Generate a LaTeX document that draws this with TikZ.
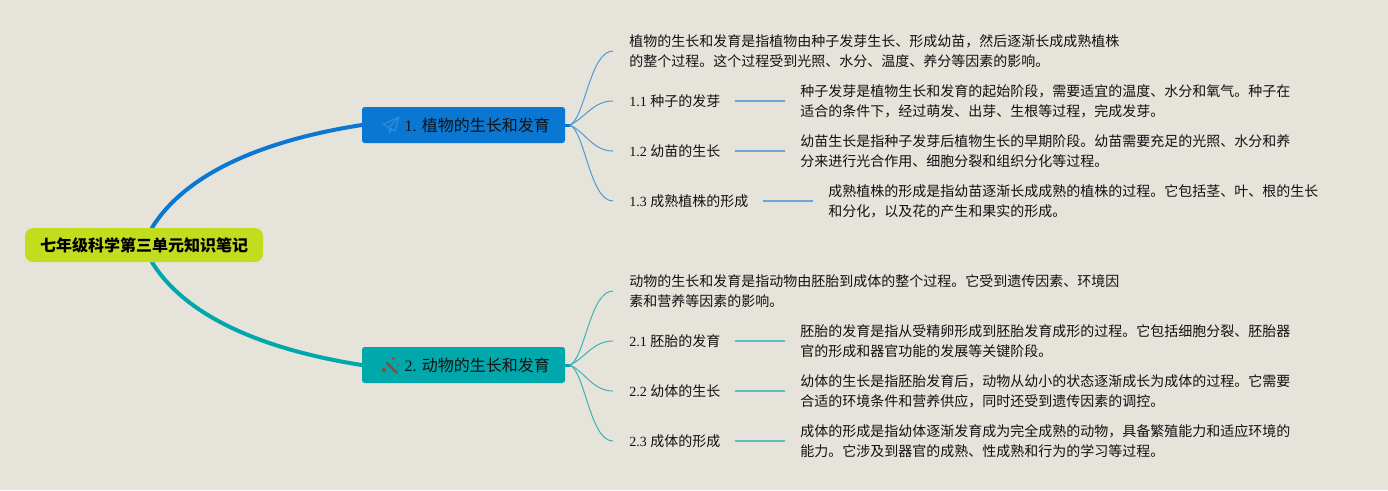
\documentclass[tikz,border=0pt]{standalone}
\usepackage{fontspec}
\setmainfont{Liberation Serif}
\newfontfamily\cjk{Noto Sans CJK SC}
\usetikzlibrary{backgrounds}
\definecolor{bgc}{HTML}{E6E3DB}
\definecolor{rootc}{HTML}{C2DC1E}
\definecolor{blueb}{HTML}{0A78D2}
\definecolor{tealb}{HTML}{00A8AB}
\definecolor{bluel}{HTML}{4F9AD6}
\definecolor{teall}{HTML}{3DB3B4}
\definecolor{bluem}{HTML}{6BA6D6}
\definecolor{tealm}{HTML}{5BBDBD}
\definecolor{inkc}{HTML}{111111}
\definecolor{wandc}{HTML}{A5402D}
\definecolor{planec}{HTML}{2F8EDC}
\newcommand{\Z}[1]{{\cjk #1}}
\newcommand{\St}{\rule[-3.2pt]{0pt}{15pt}}
\newcommand{\Sl}{\rule[-3.7pt]{0pt}{15pt}}
\newcommand{\Sb}{\rule[-2.5pt]{0pt}{15pt}}
\newcommand{\cm}{\char"FF0C\relax}
\newcommand{\two}[2]{\St #1\\\St #2}
\tikzset{
  x=0.75pt,y=-0.75pt,
  txtnode/.style={anchor=west,inner sep=0pt,align=left,text=inkc,font=\fontsize{10.5}{15}\selectfont\cjk},
  lblnode/.style={anchor=west,inner sep=0pt,text=inkc,font=\fontsize{10.5}{15}\selectfont},
  rootnode/.style={fill=rootc,rounded corners=6pt,minimum width=178.5pt,minimum height=25.5pt,inner sep=0pt,text=black,font=\fontsize{12}{14}\selectfont\cjk\bfseries},
  branchnode/.style={rounded corners=2pt,minimum width=152.25pt,minimum height=27pt,inner sep=0pt,text=inkc,font=\fontsize{12}{14}\selectfont},
  mainline/.style={line width=3pt,line cap=round},
  fanb/.style={bluel,line width=0.75pt},
  fant/.style={teall,line width=0.75pt},
  leafb/.style={bluem,line width=1pt},
  leaft/.style={tealm,line width=1pt},
}
\begin{document}
\begin{tikzpicture}
\useasboundingbox (0,0) rectangle (1388,490);
% root and branches
\node[rootnode] (root) at (144,245) {\Sb 七年级科学第三单元知识笔记};
\node[branchnode,fill=blueb] (b1) at (463.5,125) {\Sb\hspace*{20.5pt}1. \Z{植物的生长和发育}};
\node[branchnode,fill=tealb] (b2) at (463.5,365) {\Sb\hspace*{20.5pt}2. \Z{动物的生长和发育}};
% branch 1 texts
\node[txtnode] (d0) at (629,51) {\two{植物的生长和发育是指植物由种子发芽生长、形成幼苗\cm 然后逐渐长成成熟植株}{的整个过程。这个过程受到光照、水分、温度、养分等因素的影响。}};
\node[lblnode] (l1) at (629,101) {\Sl 1.1 \Z{种子的发芽}};
\node[lblnode] (l2) at (629,151) {\Sl 1.2 \Z{幼苗的生长}};
\node[lblnode] (l3) at (629,201) {\Sl 1.3 \Z{成熟植株的形成}};
\node[txtnode] (d1) at (800,101) {\two{种子发芽是植物生长和发育的起始阶段\cm 需要适宜的温度、水分和氧气。种子在}{适合的条件下\cm 经过萌发、出芽、生根等过程\cm 完成发芽。}};
\node[txtnode] (d2) at (800,151) {\two{幼苗生长是指种子发芽后植物生长的早期阶段。幼苗需要充足的光照、水分和养}{分来进行光合作用、细胞分裂和组织分化等过程。}};
\node[txtnode] (d3) at (828,201) {\two{成熟植株的形成是指幼苗逐渐长成成熟的植株的过程。它包括茎、叶、根的生长}{和分化\cm 以及花的产生和果实的形成。}};
% branch 2 texts
\node[txtnode] (e0) at (629,291) {\two{动物的生长和发育是指动物由胚胎到成体的整个过程。它受到遗传因素、环境因}{素和营养等因素的影响。}};
\node[lblnode] (m1) at (629,341) {\Sl 2.1 \Z{胚胎的发育}};
\node[lblnode] (m2) at (629,391) {\Sl 2.2 \Z{幼体的生长}};
\node[lblnode] (m3) at (629,441) {\Sl 2.3 \Z{成体的形成}};
\node[txtnode] (e1) at (800,341) {\two{胚胎的发育是指从受精卵形成到胚胎发育成形的过程。它包括细胞分裂、胚胎器}{官的形成和器官功能的发展等关键阶段。}};
\node[txtnode] (e2) at (800,391) {\two{幼体的生长是指胚胎发育后\cm 动物从幼小的状态逐渐成长为成体的过程。它需要}{合适的环境条件和营养供应\cm 同时还受到遗传因素的调控。}};
\node[txtnode] (e3) at (800,441) {\two{成体的形成是指幼体逐渐发育成为完全成熟的动物\cm 具备繁殖能力和适应环境的}{能力。它涉及到器官的成熟、性成熟和行为的学习等过程。}};
% fan hubs
\coordinate (h1) at (570,125);
\coordinate (h2) at (570,365);
\begin{pgfonlayer}{background}
\fill[bgc] (0,0) rectangle (1388,490);
\draw[mainline,blueb] ([xshift=6pt]root.north) .. controls +(33,-53) and +(-102,16) .. (b1.west);
\draw[mainline,tealb] ([xshift=6pt]root.south) .. controls +(33,53) and +(-102,-16) .. (b2.west);
\end{pgfonlayer}
% stubs and fans
\draw[blueb,line width=2.25pt,line cap=round] (b1.east) -- (h1);
\draw[tealb,line width=2.25pt,line cap=round] (b2.east) -- (h2);
\draw[fanb] (h1) .. controls +(15,-7) and +(-23,0) .. ([xshift=-12pt]d0.west);
\draw[fanb] (h1) .. controls +(15,-7) and +(-20,0) .. ([xshift=-12pt]l1.west);
\draw[fanb] (h1) .. controls +(15,7) and +(-20,0) .. ([xshift=-12pt]l2.west);
\draw[fanb] (h1) .. controls +(15,7) and +(-23,0) .. ([xshift=-12pt]l3.west);
\draw[fant] (h2) .. controls +(15,-7) and +(-23,0) .. ([xshift=-12pt]e0.west);
\draw[fant] (h2) .. controls +(15,-7) and +(-20,0) .. ([xshift=-12pt]m1.west);
\draw[fant] (h2) .. controls +(15,7) and +(-20,0) .. ([xshift=-12pt]m2.west);
\draw[fant] (h2) .. controls +(15,7) and +(-23,0) .. ([xshift=-12pt]m3.west);
% leaf connectors
\draw[leafb] ([xshift=11pt]l1.east) -- ([xshift=-11.25pt]d1.west);
\draw[leafb] ([xshift=11pt]l2.east) -- ([xshift=-11.25pt]d2.west);
\draw[leafb] ([xshift=11pt]l3.east) -- ([xshift=-11.25pt]d3.west);
\draw[leaft] ([xshift=11pt]m1.east) -- ([xshift=-11.25pt]e1.west);
\draw[leaft] ([xshift=11pt]m2.east) -- ([xshift=-11.25pt]e2.west);
\draw[leaft] ([xshift=11pt]m3.east) -- ([xshift=-11.25pt]e3.west);
% icons
\draw[color=planec,line width=0.8pt,line join=round] (399,117) -- (383,124.5) -- (389,127.5) -- (399,117) -- (395,131) -- (389,127.5) -- (389.5,133) -- (392,129);
\draw[color=wandc,line width=1.6pt] (386.7,362.7) -- (397,373);
\fill[wandc] (384,370) circle (2) (393.3,358.3) circle (1.5) (398,365) circle (1);
\end{tikzpicture}
\end{document}
